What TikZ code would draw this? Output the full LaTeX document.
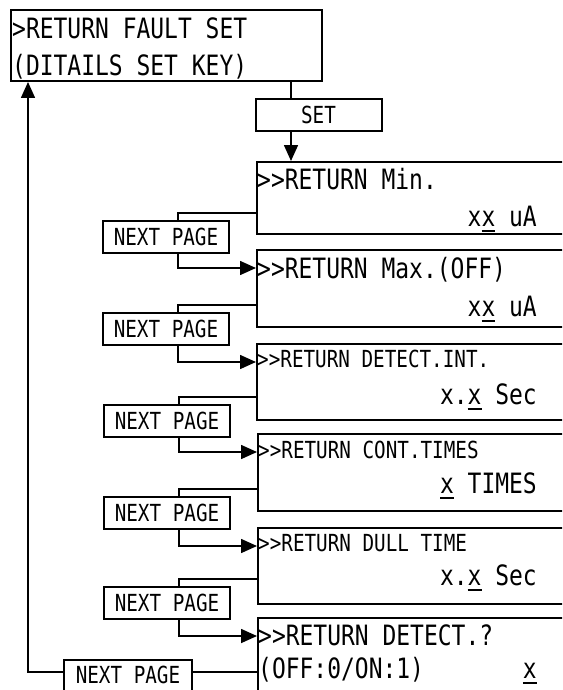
\documentclass[tikz,border=0pt]{standalone}
\usepackage{fontspec}
\newfontfamily\lcd[FakeStretch=0.82]{DejaVu Sans Mono}
\usetikzlibrary{arrows.meta}
\newcommand\curs[1]{\setbox0\hbox{#1}\rlap{\rule[-6pt]{\wd0}{2pt}}\box0\relax}

\begin{document}
\begin{tikzpicture}[x=1pt, y=-1pt,
  bx/.style={draw, line width=2pt, inner sep=0pt},
  scrn/.style={bx, anchor=north west, minimum width=340pt},
  keybox/.style={bx, minimum width=126pt, minimum height=32pt, font={\lcd\fontsize{23.5}{26}\selectfont}},
  big/.style={inner sep=0pt, font={\lcd\fontsize{28}{30}\selectfont}},
  small/.style={inner sep=0pt, font={\lcd\fontsize{23.5}{26}\selectfont}},
  ln/.style={line width=1.6pt},
  arr/.style={ln, -{Triangle[length=16pt,width=14pt]}}
 ]
  \clip (0,0) rectangle (562,690);

  % main menu line
  \node[bx, anchor=north west, minimum width=311pt, minimum height=71pt] (top) at (10,9) {};
  \node[big, anchor=base west] (top1) at (12,39) {>RETURN FAULT SET};
  \node[big, anchor=base west] (top2) at (12,76) {(DITAILS SET KEY)};
  \node[keybox] (set) at (318.5,115) {SET};

  % the six sub screens
  \node[scrn, minimum height=72pt] (s1) at (256,161) {};
  \node[big, anchor=base west] (s1a) at (257,189) {>{}>RETURN Min.};
  \node[big, anchor=base east] (s1b) at (537,226) {x\curs{x} uA};

  \node[scrn, minimum height=77pt] (s2) at (256,249) {};
  \node[big, anchor=base west] (s2a) at (257,278) {>{}>RETURN Max.(OFF)};
  \node[big, anchor=base east] (s2b) at (537,316) {x\curs{x} uA};

  \node[scrn, minimum height=76pt] (s3) at (256,343) {};
  \node[small, anchor=base west] (s3a) at (257,367) {>{}>RETURN DETECT.INT.};
  \node[big, anchor=base east] (s3b) at (537,404) {x.\curs{x} Sec};

  \node[scrn, minimum height=77pt] (s4) at (257,433) {};
  \node[small, anchor=base west] (s4a) at (258,458) {>{}>RETURN CONT.TIMES};
  \node[big, anchor=base east] (s4b) at (537,493) {\curs{x} TIMES};

  \node[scrn, minimum height=76pt] (s5) at (257,527) {};
  \node[small, anchor=base west] (s5a) at (258,551) {>{}>RETURN DULL TIME};
  \node[big, anchor=base east] (s5b) at (537,585) {x.\curs{x} Sec};

  \node[scrn, minimum height=100pt] (s6) at (257,617) {};
  \node[big, anchor=base west] (s6a) at (258,645) {>{}>RETURN DETECT.?};
  \node[big, anchor=base west] (s6b) at (258,678) {(OFF:0/ON:1)};
  \node[big, anchor=base east] (s6c) at (537,678) {\curs{x}};

  % next page keys
  \node[keybox] (b1) at (166,236.5) {NEXT PAGE};
  \node[keybox] (b2) at (166,329) {NEXT PAGE};
  \node[keybox] (b3) at (167,420.5) {NEXT PAGE};
  \node[keybox] (b4) at (167,513) {NEXT PAGE};
  \node[keybox] (b5) at (167,603) {NEXT PAGE};
  \node[keybox, anchor=north, minimum width=128pt, text height=23pt, text depth=14pt] (b6) at (128,659) {NEXT PAGE};

  \draw[ln] (top.south -| 291,0) -- (set.north -| 291,0);
  \draw[arr] (set.south -| 291,0) -- (s1.north -| 291,0);

  \foreach \i/\yo/\yi in {1/213/268, 2/305/362, 3/397/452, 4/489/546, 5/579/636} {
   \pgfmathtruncatemacro\j{\i+1}
   \draw[ln] (s\i.west |- 0,\yo) -| ([xshift=12pt]b\i.north);
   \draw[arr] ([xshift=12pt]b\i.south) |- (s\j.west |- 0,\yi);
  }

  \draw[ln] (s6.west |- 0,672) -- (b6.east |- 0,672);
  \draw[arr] (b6.west |- 0,672) -| (top.south -| 28,0);
\end{tikzpicture}
\end{document}
